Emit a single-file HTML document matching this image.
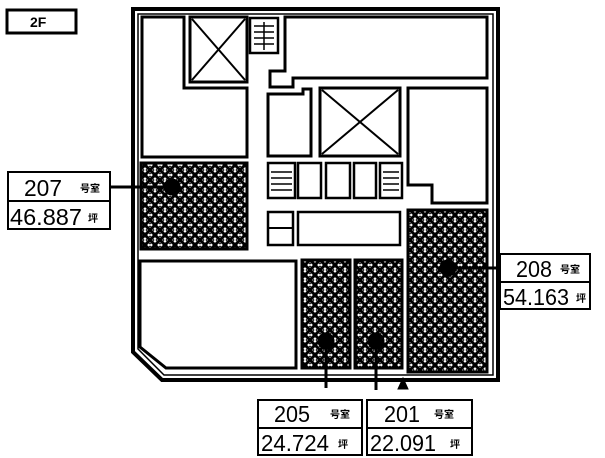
<!DOCTYPE html>
<html><head><meta charset="utf-8"><style>
html,body{margin:0;padding:0;background:#fff;width:605px;height:458px;overflow:hidden}
svg{display:block}
text{font-family:"Liberation Sans","Noto Sans CJK JP",sans-serif;fill:#000}
.n{font-size:23px}
.s{font-size:10px;font-weight:bold}
</style></head><body>
<svg width="605" height="458" viewBox="0 0 605 458" xmlns="http://www.w3.org/2000/svg">
<defs>
<pattern id="h" width="10" height="10" patternUnits="userSpaceOnUse">
<rect width="10" height="10" fill="#fff"/>
<path d="M-1 -1 L11 11 M11 -1 L-1 11" stroke="#000" stroke-width="3"/>
<path d="M5 -1 L11 5 L5 11 L-1 5 Z" fill="none" stroke="#000" stroke-width="0.8"/>
</pattern>
</defs>
<g fill="none" stroke="#000">
<path d="M133 9 H498 V380 H162 L133 352 Z" stroke-width="4"/>
<path d="M138 14 H493 V375 H164 L138 349 Z" stroke-width="1.5"/>
<path d="M142 17 H184 V88 H247 V157 H142 Z" stroke-width="3"/>
<rect x="190" y="17" width="57" height="65" stroke-width="3"/>
<path d="M192 19 L245 80 M245 19 L192 80" stroke-width="2"/>
<rect x="250" y="18" width="28" height="35" stroke-width="2.5"/>
<path d="M254 26 H274 M254 32 H274 M254 38 H274 M254 44 H274 M264 22 V50" stroke-width="1.5"/>
<path d="M285 17 H487 V78 H293 V87 H270 V71 H285 Z" stroke-width="3"/>
<path d="M268 94 H303 V89 H311 V156 H268 Z" stroke-width="3"/>
<rect x="320" y="88" width="80" height="68" stroke-width="3"/>
<path d="M322 90 L398 154 M398 90 L322 154" stroke-width="2"/>
<path d="M408 88 H487 V203 H432 V185 H408 Z" stroke-width="3"/>
<rect x="268" y="163" width="27" height="35" stroke-width="2.5"/>
<path d="M271 172 H292 M271 178 H292 M271 184 H292 M271 190 H292" stroke-width="1.5"/>
<rect x="298" y="163" width="23" height="35" stroke-width="2.5"/>
<rect x="326" y="163" width="24" height="35" stroke-width="2.5"/>
<rect x="354" y="163" width="22" height="35" stroke-width="2.5"/>
<rect x="380" y="163" width="22" height="35" stroke-width="2.5"/>
<path d="M383 172 H399 M383 178 H399 M383 184 H399 M383 190 H399" stroke-width="1.5"/>
<rect x="268" y="212" width="25" height="33" stroke-width="2.5"/>
<path d="M268 228 H293" stroke-width="2"/>
<rect x="298" y="212" width="102" height="33" stroke-width="2.5"/>
<path d="M140 261 H296 V368 H166 L140 347 Z" stroke-width="3"/>
</g>
<g stroke="#000" stroke-width="3" fill="url(#h)">
<rect x="141" y="163" width="106" height="86"/>
<rect x="408" y="210" width="79" height="162"/>
<rect x="302" y="260" width="48" height="108"/>
<rect x="355" y="260" width="47" height="108"/>
</g>
<g fill="#000" stroke="#000" stroke-width="3">
<circle cx="172" cy="187" r="7"/>
<line x1="110" y1="187" x2="172" y2="187"/>
<circle cx="448" cy="268" r="7"/>
<line x1="448" y1="268" x2="500" y2="268"/>
<circle cx="326" cy="341" r="7"/>
<line x1="326" y1="341" x2="326" y2="388"/>
<circle cx="376" cy="341" r="7"/>
<line x1="376" y1="341" x2="376" y2="390"/>
<path d="M398 389 L403 378 L408 389 Z" stroke-width="1"/>
</g>
<g fill="#fff" stroke="#000" stroke-width="2">
<rect x="7" y="10" width="69" height="23" stroke-width="3"/>
<rect x="8" y="172" width="102" height="57"/>
<line x1="8" y1="201" x2="110" y2="201"/>
<rect x="500" y="254" width="90" height="55"/>
<line x1="500" y1="282" x2="590" y2="282"/>
<rect x="258" y="400" width="104" height="55"/>
<line x1="258" y1="428" x2="362" y2="428"/>
<rect x="367" y="400" width="105" height="55"/>
<line x1="367" y1="428" x2="472" y2="428"/>
</g>
<text x="30" y="27" style="font-size:14px;font-weight:bold">2F</text>
<text class="n" x="24" y="196" textLength="38" lengthAdjust="spacingAndGlyphs">207</text><text class="s" x="80" y="192">号室</text>
<text class="n" x="10" y="225" textLength="72" lengthAdjust="spacingAndGlyphs">46.887</text><text class="s" x="88" y="222">坪</text>
<text class="n" x="516" y="277" textLength="36" lengthAdjust="spacingAndGlyphs">208</text><text class="s" x="560" y="273">号室</text>
<text class="n" x="503" y="305" textLength="66" lengthAdjust="spacingAndGlyphs">54.163</text><text class="s" x="576" y="302">坪</text>
<text class="n" x="274" y="422" textLength="36" lengthAdjust="spacingAndGlyphs">205</text><text class="s" x="330" y="418">号室</text>
<text class="n" x="261" y="451" textLength="68" lengthAdjust="spacingAndGlyphs">24.724</text><text class="s" x="338" y="448">坪</text>
<text class="n" x="384" y="422" textLength="36" lengthAdjust="spacingAndGlyphs">201</text><text class="s" x="434" y="418">号室</text>
<text class="n" x="370" y="451" textLength="66" lengthAdjust="spacingAndGlyphs">22.091</text><text class="s" x="450" y="448">坪</text>
</svg>
</body></html>
